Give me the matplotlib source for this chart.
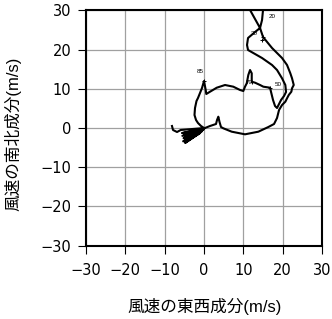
import numpy as np
import matplotlib
matplotlib.use('Agg')
import matplotlib.pyplot as plt

plt.rcParams['font.family'] = ['Liberation Sans', 'Noto Sans CJK JP', 'DejaVu Sans']

# hodograph (east / north wind components, m/s), surface -> top -> back
u = [-8.14, -7.88, -6.86, -5.9,
     0.2, -5.6, -0.3, -5.2, -0.8, -4.9, -1.0, -5.5, 0.0, -4.6, -0.5, -5.0, 0.0,
     -0.76, -1.53, -2.03, -2.42, -2.29, -1.91, -1.53, -1.02, -0.51, 0.0,
     0.43, 0.58, 1.53, 3.23, 5.34, 7.45, 9.15, 9.99, 10.42, 10.86, 11.26, 11.70, 12.13, 12.13,
     12.97, 14.24, 15.08, 16.78,
     17.04, 17.54, 18.05, 18.56, 19.07, 19.58, 20.34, 20.85, 20.67, 19.83, 18.56, 17.29, 14.75,
     11.19, 10.93, 11.19, 12.97, 14.24, 14.75, 15.0, 15.5, 13.0,
     11.70, 12.97, 14.24, 15.0, 17.29, 19.83, 21.10, 21.94, 22.37, 22.81, 22.37, 22.20, 21.54,
     21.10, 20.67, 19.83, 19.07, 18.56, 17.80, 16.35, 13.81, 10.42, 7.04, 4.91, 4.32, 3.94, 3.64,
     3.31, 3.05, 1.53, 0.25, -1.5, -4.0, -0.6, -4.8, -1.2, -5.3, -2.0, -4.2]
v = [0.51, -0.51, -1.02, -0.5,
     0.0, -1.3, -0.4, -2.6, -0.8, -3.4, -1.3, -2.0, -0.3, -3.0, -0.6, -1.6, 0.0,
     0.51, 1.27, 2.04, 3.31, 5.10, 6.88, 7.65, 8.92, 10.20, 11.98,
     9.69, 8.67, 9.25, 10.27, 10.96, 10.53, 9.69, 9.43, 10.53, 11.39, 13.51, 14.78, 13.94, 11.80,
     11.55, 10.96, 10.53, 10.27,
     9.18, 7.14, 5.61, 5.10, 6.12, 7.14, 8.16, 9.18, 10.96, 12.67, 14.78, 16.06, 17.84,
     19.88, 21.16, 22.94, 24.47, 25.49, 27.53, 30.08, 33.0, 32.0,
     30.08, 27.78, 25.49, 23.2, 20.39, 17.84, 16.06, 13.94, 12.67, 10.96, 10.12, 9.25, 8.41,
     7.57, 6.70, 5.86, 4.59, 2.55, 1.02, 0.25, -0.94, -1.61, -0.94, -0.08, 0.25, 1.53, 2.88,
     2.04, 1.02, 0.51, 0.0, -1.0, -2.3, -0.9, -3.8, -1.4, -3.4, -1.6, -2.9]

# pressure level labels (x10 hPa)
lev_text = ['85', '70', '50', '30', '20']
lev_u = [-1.0, 11.6, 18.9, 12.7, 17.3]
lev_v = [14.3, 11.7, 11.2, 24.0, 28.3]
mark_u = [0.0, 12.13, 16.78, 14.75, 15.0]
mark_v = [11.98, 11.80, 10.27, 22.5, 23.2]

ticks = [-30, -20, -10, 0, 10, 20, 30]

fig = plt.figure(figsize=(3.32, 3.19), dpi=100)
ax = fig.add_axes([0.259, 0.2298, 0.711, 0.7379])

ax.plot(u, v, color='black', lw=1.5, solid_joinstyle='round', clip_on=True)
ax.plot(mark_u, mark_v, '+', color='black', ms=3, mew=0.7)
for t, x, y in zip(lev_text, lev_u, lev_v):
    ax.text(x, y, t, fontsize=4.5, ha='center', va='center')

ax.set_xlim(-30, 30)
ax.set_ylim(-30, 30)
ax.set_xticks(ticks)
ax.set_yticks(ticks)
tick_lbl = ['\u2212%d' % -t if t < 0 else str(t) for t in ticks]
ax.set_xticklabels(tick_lbl, family='DejaVu Sans')
ax.set_yticklabels(tick_lbl, family='DejaVu Sans')
ax.grid(True, color='#a0a0a0', lw=0.9)
ax.set_axisbelow(True)
for s in ax.spines.values():
    s.set_linewidth(1.5)
ax.tick_params(direction='out', length=5.5, width=0.8, labelsize=10.5)
ax.tick_params(axis='x', pad=7)
ax.tick_params(axis='y', pad=5)

ax.set_xlabel('風速の東西成分(m/s)', fontsize=12, va='center')
ax.set_ylabel('風速の南北成分(m/s)', fontsize=12, va='center')
ax.xaxis.set_label_coords(0.504, -0.259)
ax.yaxis.set_label_coords(-0.31, 0.477)

plt.savefig('out.png', dpi=100)
